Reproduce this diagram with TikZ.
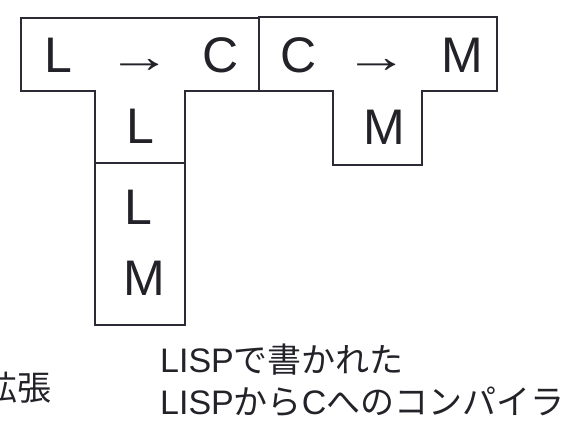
\documentclass[tikz,border=0pt]{standalone}
\usepackage{graphicx}
\usepackage{fontspec}
\setmainfont{Liberation Sans}
\newfontfamily\jpfont{Noto Sans CJK JP}
\definecolor{tline}{HTML}{2B2B35}
\definecolor{ttext}{HTML}{222228}

\tikzset{
  tshape/.style  = {draw=tline, line width=1.8pt, line join=miter},
  letter/.style  = {anchor=base, inner sep=0pt, text=ttext,
                    font=\fontsize{50}{60}\selectfont},
  arrowtxt/.style = {letter, font=\fontsize{46}{56}\selectfont},
  caption/.style = {inner sep=0pt, text=ttext, align=left,
                    font=\fontsize{34}{42}\selectfont}
}
\newcommand{\tarrow}{\scalebox{1.4}[1]{→}}

\begin{document}
\begin{tikzpicture}
[
x=1pt, y=-1pt
  ]
\useasboundingbox (0,0) rectangle (569,420);
\clip (0,0) rectangle (569,420);

% LISP -> C, written in LISP
\draw[tshape] (21,18) -- (259,18) -- (259,91) -- (185,91) -- (185,163)
  -- (95,163) -- (95,91) -- (21,91) -- cycle;
\node[letter] (lsrc)  at (58,72)  {L};
\node[arrowtxt] (larr) at (140,72) {\tarrow};
\node[letter] (ltgt)  at (221,72) {C};
\node[letter] (limpl) at (140,143) {L};

% C -> M, written in M
\draw[tshape] (259,17) -- (497,17) -- (497,91) -- (422,91) -- (422,165)
  -- (333,165) -- (333,91) -- (259,91) -- cycle;
\node[letter] (rsrc)  at (299,72) {C};
\node[arrowtxt] (rarr) at (377,72) {\tarrow};
\node[letter] (rtgt)  at (462,72) {M};
\node[letter] (rimpl) at (384,144) {M};

% LISP interpreter on M
\draw[tshape] (95,163) rectangle (185,325);
\node[letter] (iL) at (138,224) {L};
\node[letter] (iM) at (144,295) {M};

% captions
\node[caption, anchor=base east] (ext) at (52,400) {\jpfont 拡張};
\node[caption, anchor=base west] (cap) at (160,414)
  {LISP{\jpfont で書かれた}\\LISP{\jpfont から}C{\jpfont へのコンパイラ}};
\end{tikzpicture}
\end{document}
